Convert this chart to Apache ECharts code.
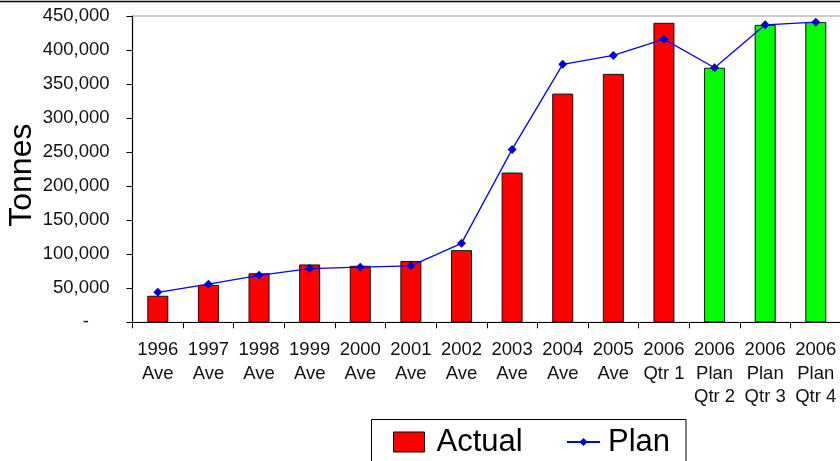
<!DOCTYPE html>
<html>
<head>
<meta charset="utf-8">
<script src="https://cdn.jsdelivr.net/npm/echarts@6/dist/echarts.min.js"></script>
<style>
html,body{margin:0;padding:0;background:#fff;}
#chart{width:840px;height:461px;}
</style>
</head>
<body>
<div id="chart"></div>
<script>
const categories = ['1996\nAve','1997\nAve','1998\nAve','1999\nAve','2000\nAve','2001\nAve','2002\nAve','2003\nAve','2004\nAve','2005\nAve','2006\nQtr 1','2006\nPlan\nQtr 2','2006\nPlan\nQtr 3','2006\nPlan\nQtr 4'];
const actual = [39000, 55000, 72000, 85000, 83000, 90000, 106000, 220000, 336000, 365000, 440000, 374000, 437000, 441000];
const plan = [44000, 56000, 69000, 79000, 81000, 83000, 116000, 254000, 379000, 392000, 416000, 374000, 437000, 441000];
const yTicks = [0, 50000, 100000, 150000, 200000, 250000, 300000, 350000, 400000, 450000];

const FONT = '"Liberation Sans", Arial, sans-serif';
const chart = echarts.init(document.getElementById('chart'), null, {renderer: 'canvas'});

const barData = actual.map((v, i) => ({
  value: v,
  itemStyle: { color: categories[i].indexOf('Plan') >= 0 ? '#00FF00' : '#FF0000' }
}));

chart.setOption({
  animation: false,
  backgroundColor: '#fff',
  grid: { left: 132.5, top: 16, width: 708.6, height: 306.3, containLabel: false, outerBoundsMode: 'none', show: true, borderColor: '#9a9a9a', borderWidth: 1, backgroundColor: 'transparent' },
  xAxis: {
    type: 'category',
    data: categories,
    boundaryGap: true,
    axisLine: { lineStyle: { color: '#000', width: 1.2 } },
    axisTick: { show: true, length: 6, lineStyle: { color: '#000' } },
    axisLabel: { interval: 0, color: '#111', fontFamily: FONT, fontSize: 18.5, lineHeight: 23.5, margin: 16 },
    splitLine: { show: false }
  },
  yAxis: {
    type: 'value',
    min: yTicks[0],
    max: yTicks[yTicks.length - 1],
    interval: yTicks[1] - yTicks[0],
    name: 'Tonnes',
    nameLocation: 'middle',
    nameRotate: 90,
    nameGap: 94,
    nameMoveOverlap: false,
    nameTextStyle: { fontFamily: FONT, fontSize: 32, color: '#000', padding: [0, 12, 0, 0] },
    axisLine: { show: true, lineStyle: { color: '#000', width: 1.2 } },
    axisTick: { show: true, length: 6, lineStyle: { color: '#000' } },
    axisLabel: {
      color: '#111', fontFamily: FONT, fontSize: 18.5, margin: 23,
      formatter: v => v === 0 ? '-    ' : v.toLocaleString('en-US')
    },
    splitLine: { show: false }
  },
  legend: [
    {
      data: [{ name: 'Actual', icon: 'rect' }], left: 393, top: 426, padding: 0,
      itemWidth: 31, itemHeight: 20,
      textStyle: { fontFamily: FONT, fontSize: 31, color: '#000', lineHeight: 32, padding: [0, 0, 0, 7] },
      itemStyle: { borderColor: '#000', borderWidth: 1 }
    },
    {
      data: ['Plan'], left: 566, top: 426, padding: 0,
      itemWidth: 33, itemHeight: 10,
      textStyle: { fontFamily: FONT, fontSize: 31, color: '#000', lineHeight: 32, padding: [0, 0, 0, 3] }
    }
  ],
  graphic: [
    { type: 'line', shape: { x1: 0, y1: 1.5, x2: 840, y2: 1.5 }, style: { stroke: '#000', lineWidth: 1.3 }, silent: true },
    { type: 'rect', shape: { x: 371.5, y: 419.5, width: 314.5, height: 60 }, style: { stroke: '#000', fill: null, lineWidth: 1 }, silent: true }
  ],
  series: [
    {
      name: 'Actual',
      type: 'bar',
      data: barData,
      barWidth: 21,
      itemStyle: { color: '#FF0000', borderColor: '#111', borderWidth: 1 },
      z: 2
    },
    {
      name: 'Plan',
      type: 'line',
      data: plan,
      symbol: 'diamond',
      symbolSize: 9,
      showAllSymbol: true,
      lineStyle: { color: '#0000FF', width: 1.3 },
      itemStyle: { color: '#0000CC' },
      z: 3
    }
  ]
});
</script>
</body>
</html>
